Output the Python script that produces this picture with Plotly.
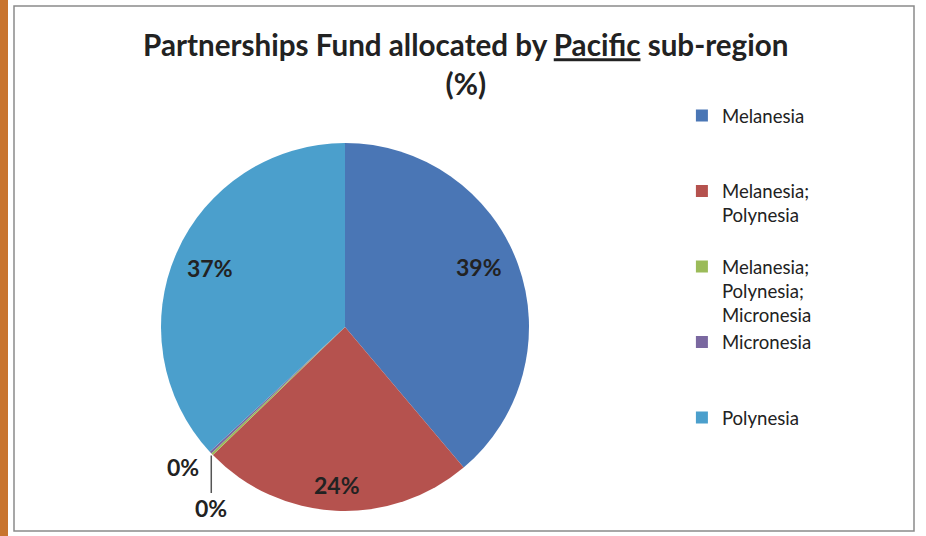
import math
import plotly.graph_objects as go

regions = ["Melanesia", "Melanesia; Polynesia", "Melanesia; Polynesia; Micronesia", "Micronesia", "Polynesia"]
shares = [39.0, 24.0, 0.2, 0.2, 37.0]
colors = ["#4A76B5", "#B5524E", "#9BBB59", "#7A68A0", "#4B9FCC"]
title_line1 = "Partnerships Fund allocated by <u>Pacific</u> sub-region"
title_line2 = "(%)"

# legend display labels (line breaks mimic the Excel legend layout)
NB = "\u00a0"
legend_labels = [
    "Melanesia<br>" + NB + "<br>" + NB,
    "Melanesia;<br>Polynesia<br>" + NB,
    "Melanesia;<br>Polynesia;<br>Micronesia",
    "Micronesia<br>" + NB + "<br>" + NB,
    "Polynesia",
]

W, H = 926, 536
cx, cy, r = 345, 327, 184
dom_x = [(cx - r) / W, (cx + r) / W]
dom_y = [(H - cy - r) / H, (H - cy + r) / H]

fig = go.Figure(go.Pie(
    labels=legend_labels,
    values=shares,
    sort=False,
    direction="clockwise",
    rotation=0,
    marker=dict(colors=colors, line=dict(width=0)),
    textinfo="none",
    domain=dict(x=dom_x, y=dom_y),
    automargin=False,
    hoverinfo="label+percent",
))

# data labels placed from the cumulative shares (Excel-like best-fit positions)
label_font = dict(family="Lato", size=23, color="#222222", weight="bold")
radius_factor = [0.80, 0.86, None, None, 0.80]
angle_nudge = [-4, 0, 0, 0, 0]  # degrees, Excel best-fit offsets
total = sum(shares)
cum = 0.0
annotations = []
for i, v in enumerate(shares):
    start = cum / total
    cum += v
    end = cum / total
    pct = f"{round(100 * v / total)}%"
    if radius_factor[i] is not None:
        mid = 2 * math.pi * (start + end) / 2 + math.radians(angle_nudge[i])
        px = cx + radius_factor[i] * r * math.sin(mid)
        py = cy - radius_factor[i] * r * math.cos(mid)
        annotations.append(dict(x=px / W, y=1 - py / H, xref="paper", yref="paper",
                                xanchor="center", yanchor="middle",
                                text=pct, showarrow=False, font=label_font))
    else:
        ang = 2 * math.pi * start
        ex = cx + r * math.sin(ang)
        ey = cy - r * math.cos(ang)
        if i == 2:
            annotations.append(dict(x=ex / W, y=1 - ey / H, xref="paper", yref="paper",
                                    text=pct, showarrow=False, font=label_font,
                                    xanchor="right", yanchor="middle", xshift=-12, yshift=-12))
        else:
            annotations.append(dict(x=ex / W, y=1 - ey / H, xref="paper", yref="paper",
                                    text=pct, showarrow=True, arrowhead=0, arrowwidth=1.5,
                                    arrowcolor="#555555", ax=0, ay=55, standoff=2,
                                    font=label_font))

fig.update_layout(
    width=W, height=H,
    margin=dict(l=0, r=0, t=0, b=0),
    paper_bgcolor="white",
    plot_bgcolor="white",
    font=dict(family="Lato", color="#222222"),
    title=dict(
        text=title_line1 + "<br>" + title_line2,
        x=0.503, xanchor="center",
        y=0.895, yanchor="top",
        font=dict(family="Lato", size=29.6, color="#222222", weight="bold"),
    ),
    legend=dict(
        x=0.7364, y=0.8194, xanchor="left", yanchor="top",
        font=dict(family="Lato", size=18.6, color="#222222"),
        valign="top",
        bgcolor="rgba(0,0,0,0)",
        traceorder="normal",
    ),
    annotations=annotations,
    shapes=[
        dict(type="rect", xref="paper", yref="paper", x0=0, x1=8 / W, y0=0, y1=1,
             fillcolor="#C8742E", line=dict(width=0), layer="below"),
        dict(type="rect", xref="paper", yref="paper", x0=14 / W, x1=914 / W,
             y0=(H - 531) / H, y1=(H - 6) / H,
             fillcolor="rgba(0,0,0,0)", line=dict(color="#8a8a8a", width=1.5)),
    ],
)

fig.write_html(
    "out.html",
    config={"displayModeBar": False},
    post_script="document.body.style.margin='0';document.body.style.overflow='hidden';",
)
